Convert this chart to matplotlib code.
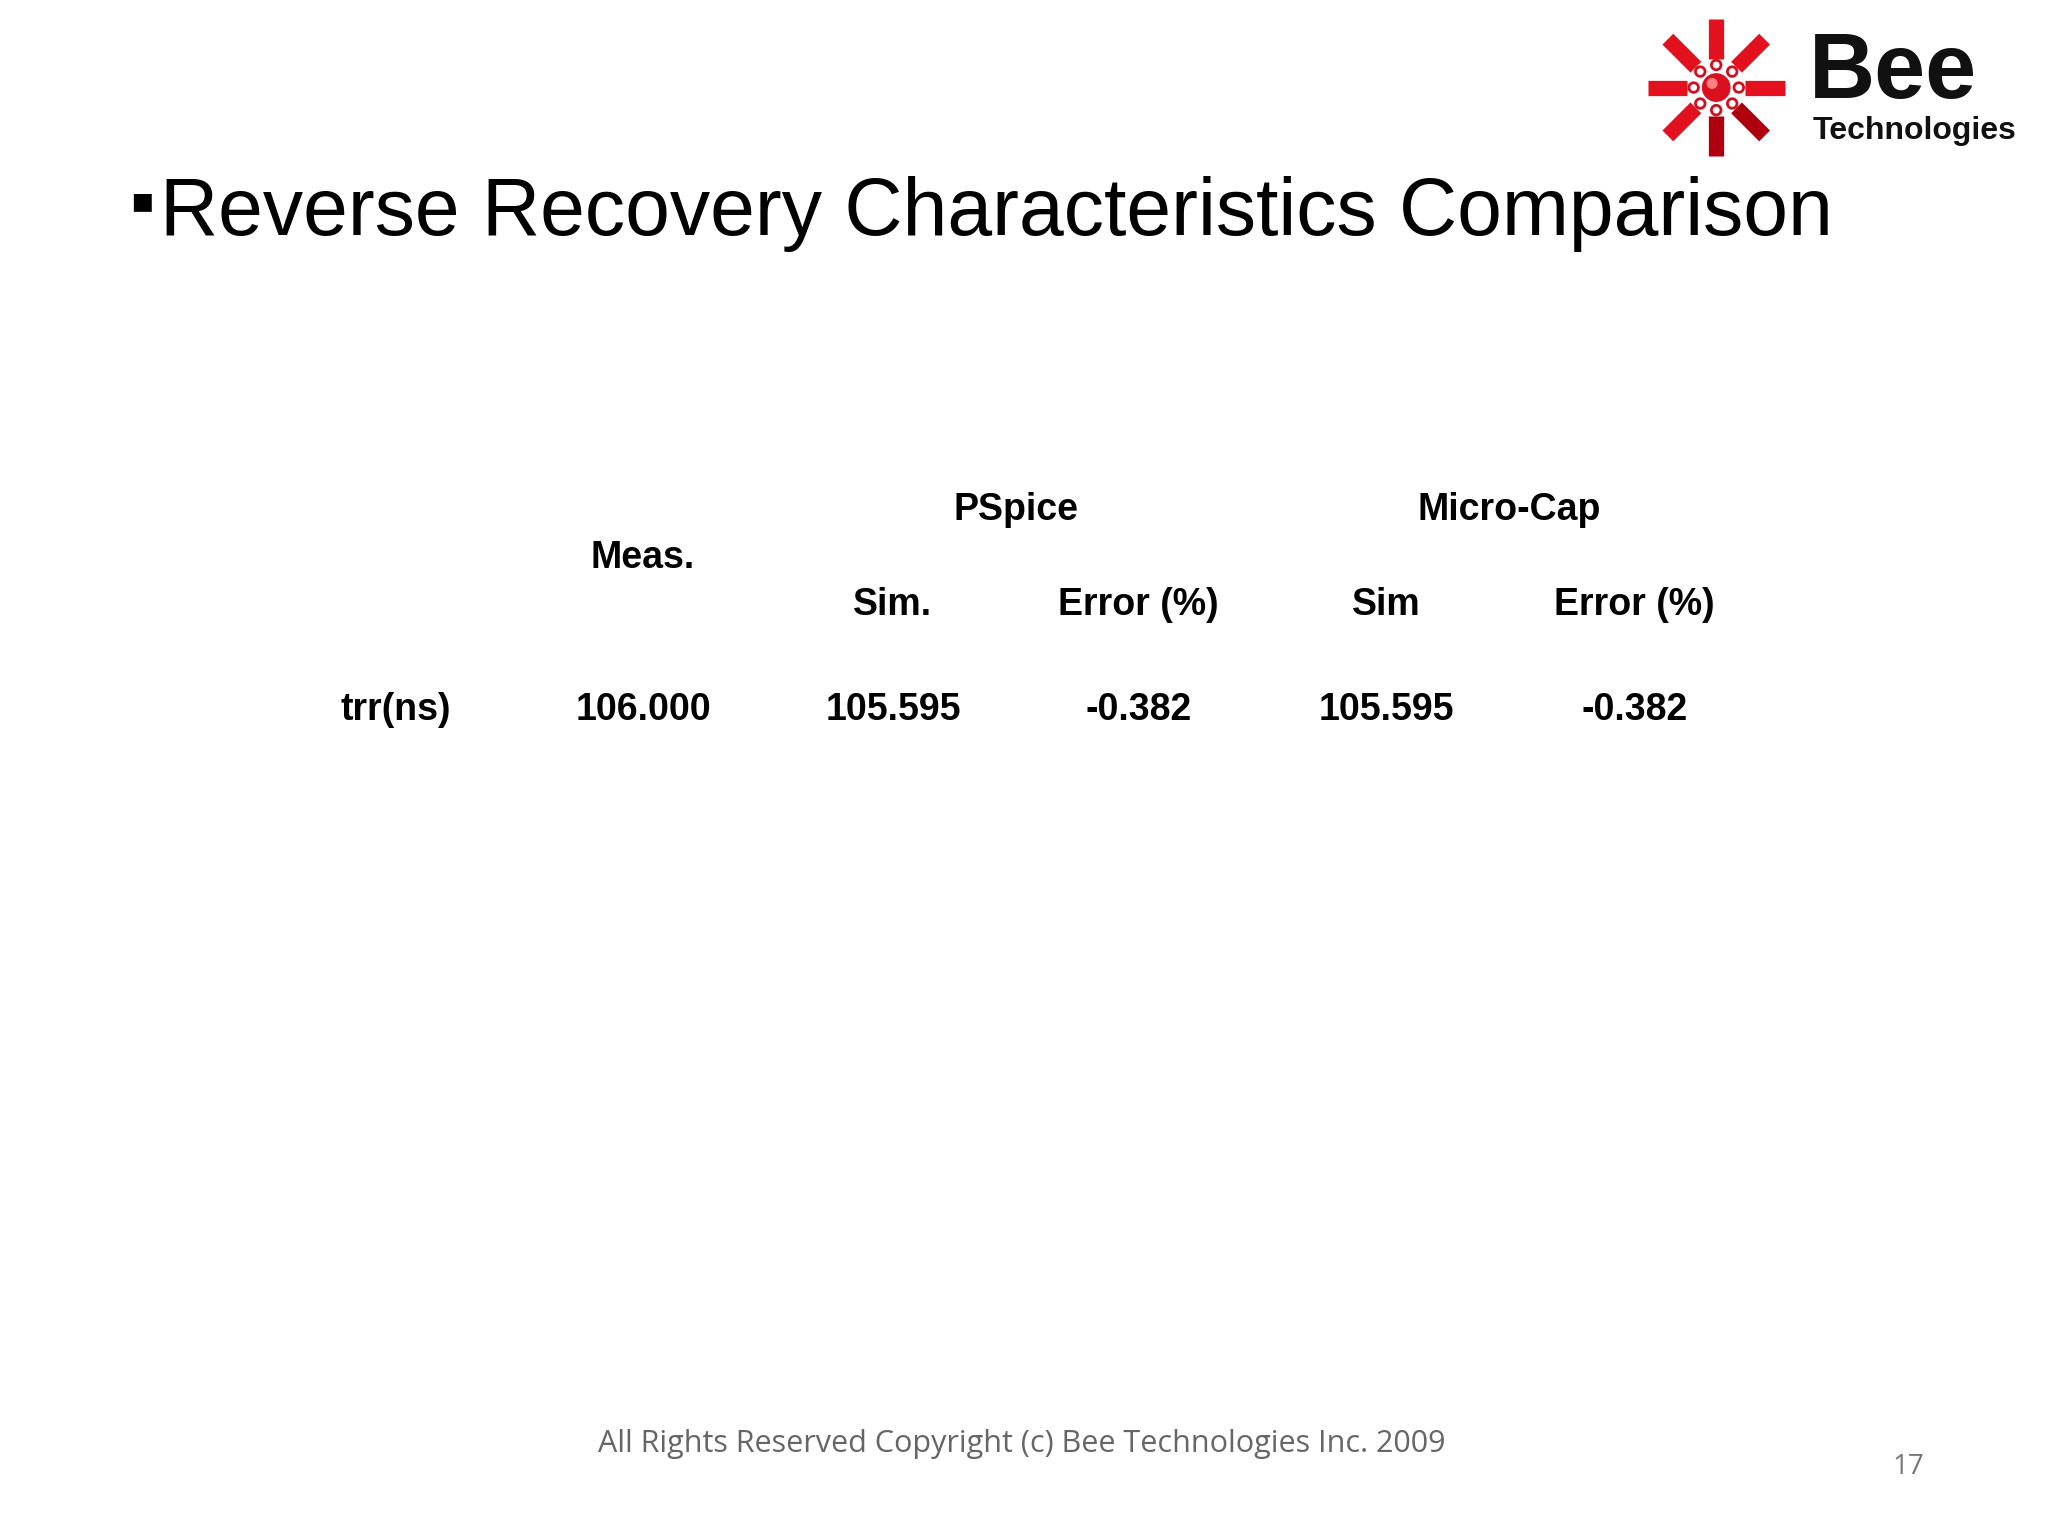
import numpy as np
import matplotlib
matplotlib.use("Agg")
import matplotlib.pyplot as plt
from matplotlib.patches import Circle

title = "Reverse Recovery Characteristics Comparison"
groups = ["PSpice", "Micro-Cap"]
sub_headers = ["Sim.", "Error (%)", "Sim", "Error (%)"]
row_label = "trr(ns)"
row_values = ["106.000", "105.595", "-0.382", "105.595", "-0.382"]
footer = "All Rights Reserved Copyright (c) Bee Technologies Inc. 2009"
page = "17"

plt.rcParams["font.family"] = ["Liberation Sans", "DejaVu Sans"]
fig = plt.figure(figsize=(20.48, 15.36), dpi=100)

# title with square bullet
fig.text(0.063, 0.866, "\u25aa", fontsize=52, va="center", ha="left")
fig.text(0.078, 0.861, title, fontsize=58, va="center", ha="left")

# table
bold = dict(fontsize=27, fontweight="bold", ha="center", va="center")
fig.text(0.496, 0.668, groups[0], **bold)
fig.text(0.737, 0.668, groups[1], **bold)
fig.text(0.314, 0.637, "Meas.", **bold)
for x, h in zip([0.436, 0.556, 0.677, 0.798], sub_headers):
    fig.text(x, 0.606, h, **bold)
fig.text(0.193, 0.538, row_label, **bold)
for x, v in zip([0.314, 0.436, 0.556, 0.677, 0.798], row_values):
    fig.text(x, 0.538, v, **bold)

# footer
fig.text(0.499, 0.060, footer, fontsize=22, color="#666666", ha="center",
         va="center", family=["Open Sans", "DejaVu Sans"])
fig.text(0.932, 0.045, page, fontsize=20, color="#777777", ha="center",
         va="center", family=["Open Sans", "DejaVu Sans"])

# logo
lax = fig.add_axes([0.794, 0.894, 0.088, 0.098])
lax.set_xlim(-1.25, 1.25)
lax.set_ylim(-1.1, 1.1)
lax.set_aspect("equal")
lax.axis("off")
for k in range(8):
    a = np.deg2rad(45 * k)
    c, s = np.cos(a), np.sin(a)
    col = "#e3101e" if k not in (6, 7) else "#b00010"
    lax.plot([0.42 * c, 1.0 * c], [0.42 * s, 1.0 * s], color=col, lw=11,
             solid_capstyle="butt")
    lax.add_patch(Circle((0.33 * c, 0.33 * s), 0.07, fc="white", ec="#d01020", lw=2))
lax.add_patch(Circle((0, 0), 0.2, color="#d81020"))
lax.add_patch(Circle((-0.06, 0.06), 0.07, color="#ff8080"))

t = fig.text(0.883, 0.952, "Bee", fontsize=66, fontweight="bold", ha="left",
             va="center", color="#111111")
t.set_stretch("expanded")
fig.text(0.885, 0.915, "Technologies", fontsize=23, fontweight="bold",
         ha="left", va="center", color="#111111")

fig.savefig("out.png", dpi=100)
